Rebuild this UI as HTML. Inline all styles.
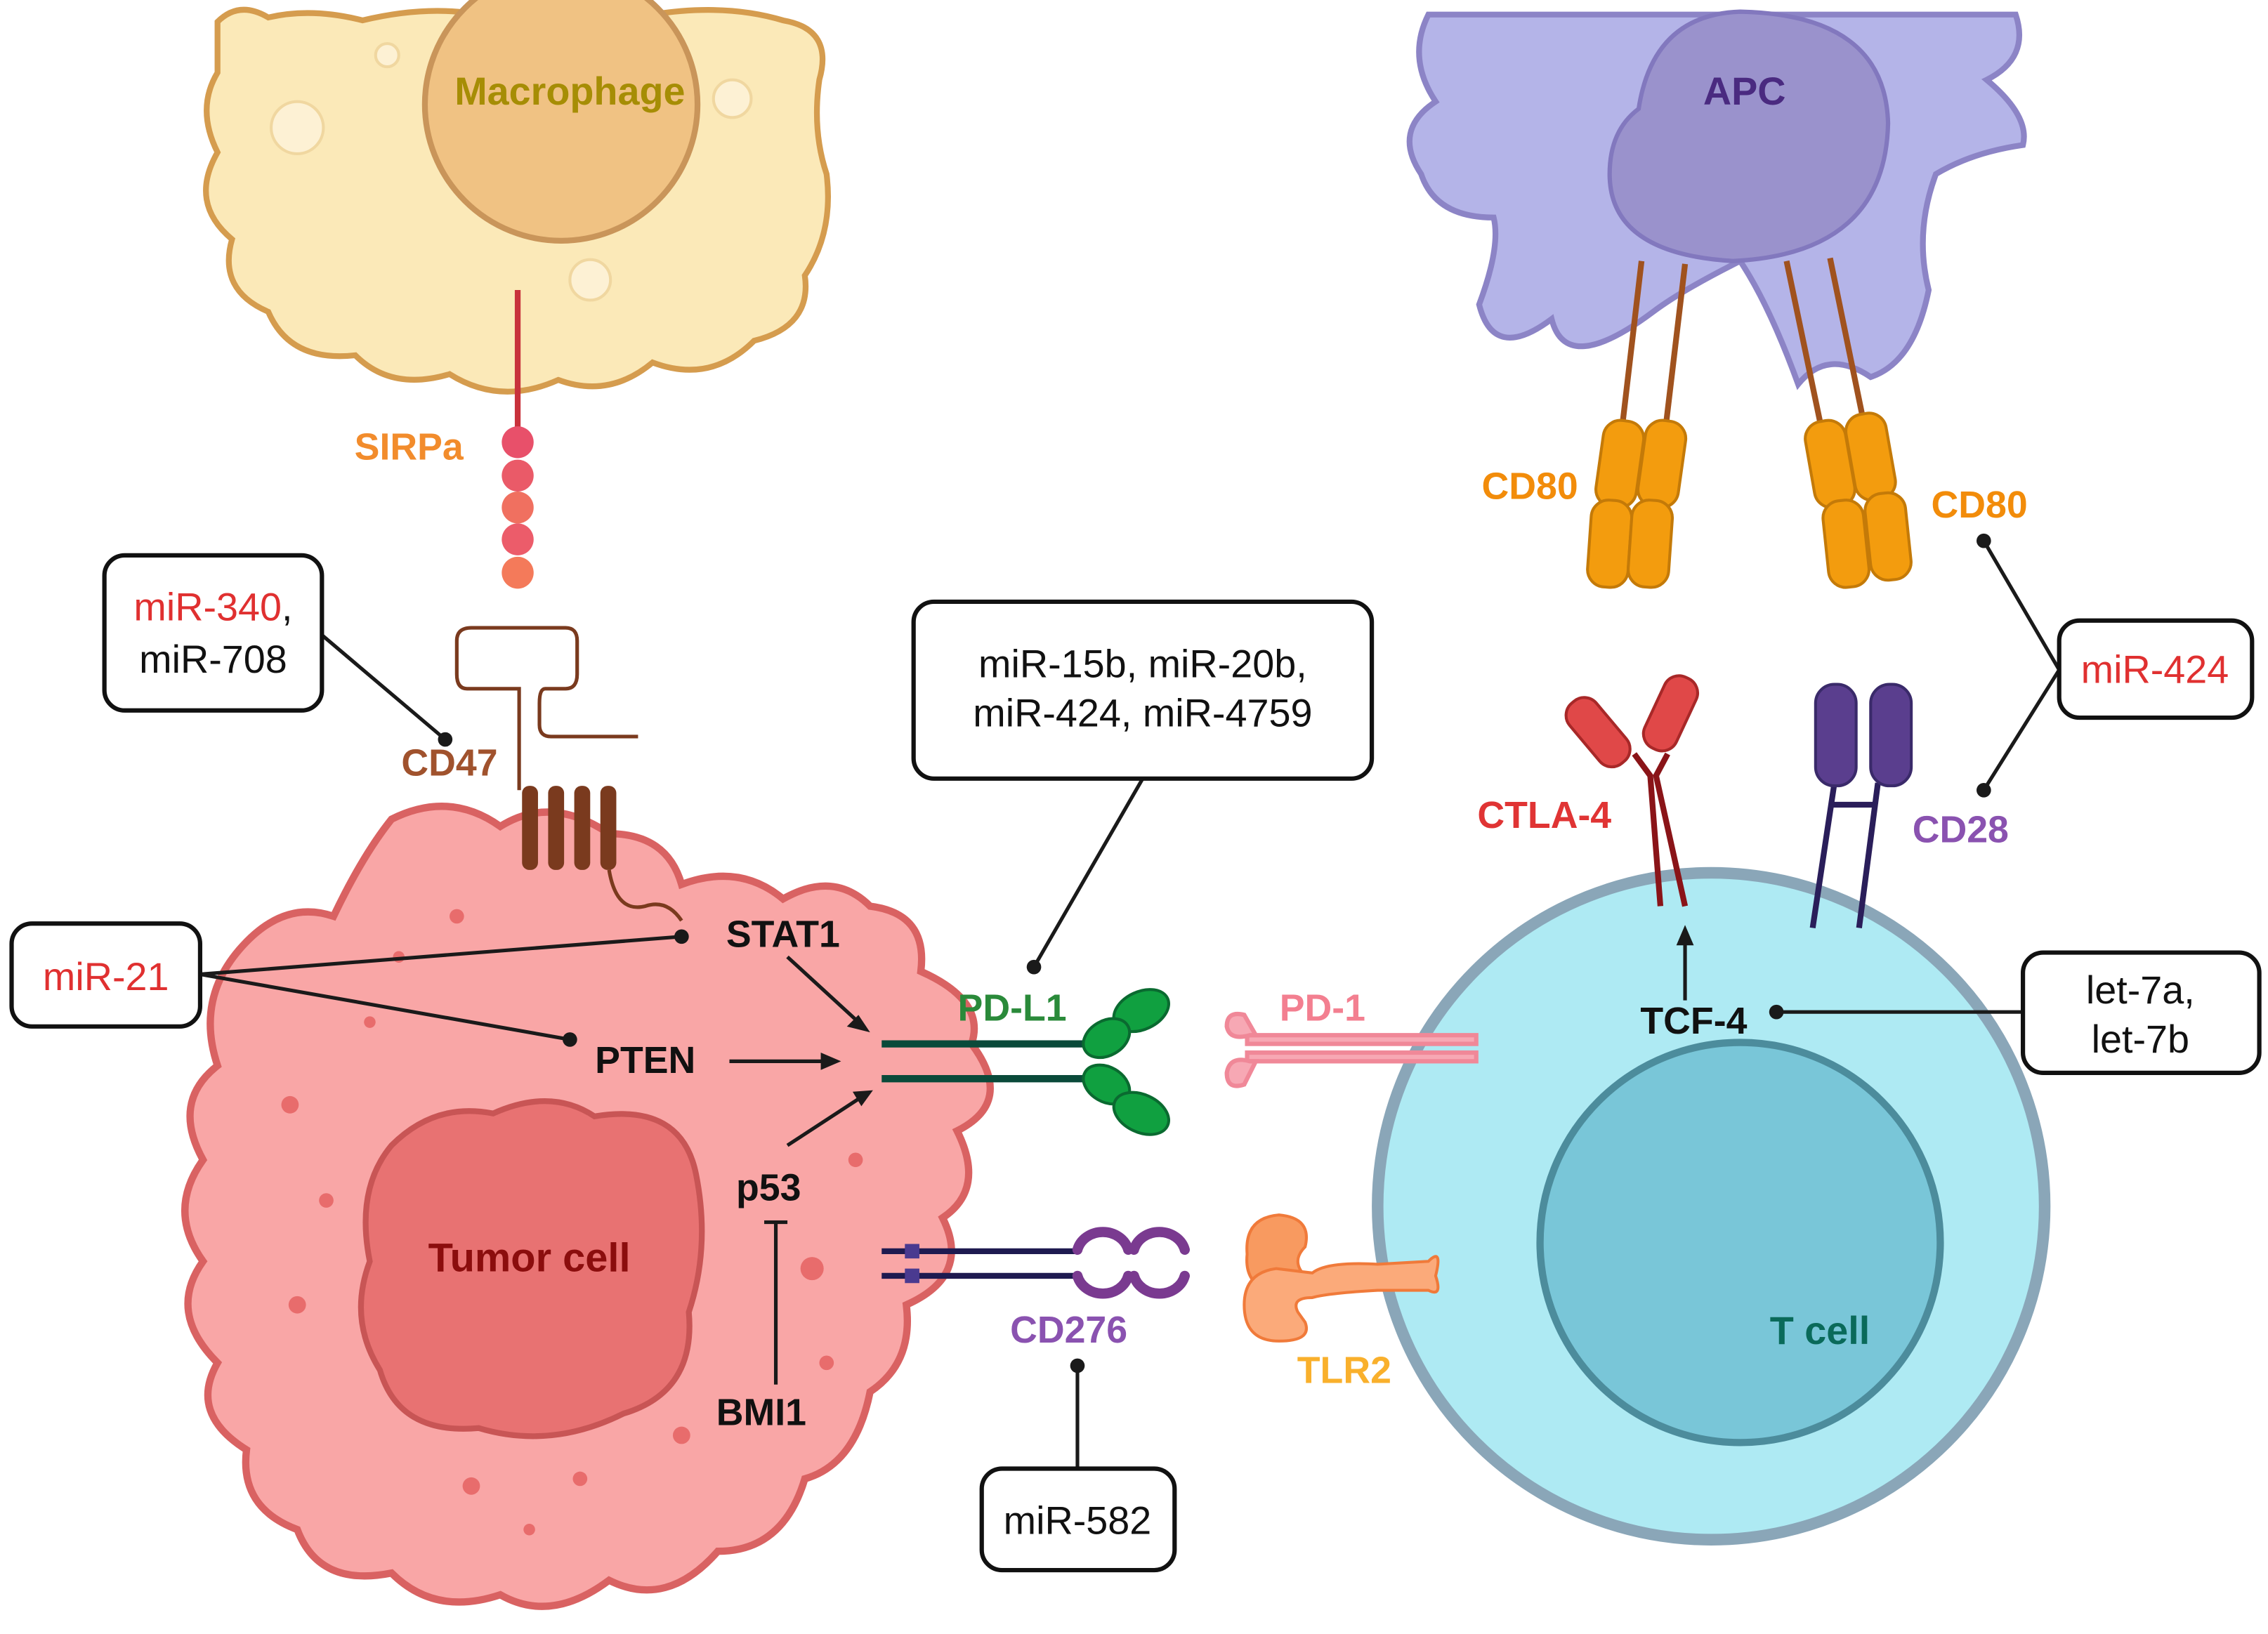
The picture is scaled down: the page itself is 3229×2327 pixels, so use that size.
<!DOCTYPE html>
<html><head><meta charset="utf-8"><style>html,body{margin:0;padding:0;background:#fff}svg{display:block}</style></head>
<body>
<svg width="3229" height="2327" viewBox="0 0 1564 1127" xmlns="http://www.w3.org/2000/svg" font-family="Liberation Sans, sans-serif">
<!-- Macrophage -->
<path d="M150,15 Q165,0 185,12 Q215,5 250,14 Q300,2 340,12 Q400,0 450,10 Q500,2 540,14 Q575,20 565,55 Q560,90 570,120 Q575,160 555,190 Q560,225 520,235 Q490,265 450,250 Q420,275 385,262 Q345,280 310,258 Q270,270 245,245 Q200,250 185,215 Q150,200 160,165 Q130,140 150,105 Q135,75 150,50 Z" fill="#fbe9b8" stroke="#d59c4e" stroke-width="4"/>
<circle cx="387" cy="72" r="94" fill="#f0c283" stroke="#c9955a" stroke-width="4"/>
<circle cx="205" cy="88" r="18" fill="#fdf1d4" stroke="#f0d7a0" stroke-width="2"/>
<circle cx="407" cy="193" r="14" fill="#fdf1d4" stroke="#f0d7a0" stroke-width="2"/>
<circle cx="505" cy="68" r="13" fill="#fdf1d4" stroke="#f0d7a0" stroke-width="2"/>
<circle cx="267" cy="38" r="8" fill="#fdf1d4" stroke="#f0d7a0" stroke-width="2"/>
<text x="393" y="72" font-size="27" font-weight="bold" fill="#a68d05" text-anchor="middle">Macrophage</text>
<!-- APC -->
<path d="M985,10 L1390,10 Q1400,40 1370,55 Q1400,80 1395,100 Q1360,105 1335,120 Q1320,160 1330,200 Q1320,250 1290,260 Q1260,240 1240,265 Q1220,210 1200,180 Q1160,200 1140,215 Q1080,260 1070,220 Q1030,250 1020,210 Q1035,170 1030,150 Q990,150 980,120 Q960,90 990,70 Q970,40 985,10 Z" fill="#b4b4e8" stroke="#8c84c6" stroke-width="4"/>
<path d="M1130,75 Q1140,10 1200,8 Q1300,10 1302,85 Q1300,175 1195,180 Q1110,175 1110,120 Q1110,90 1130,75 Z" fill="#9a92cc" stroke="#8278be" stroke-width="3"/>
<text x="1203" y="72" font-size="27" font-weight="bold" fill="#4a2a80" text-anchor="middle">APC</text>
<!-- CD80 -->
<g stroke="#a0521e" stroke-width="4"><line x1="1132" y1="180" x2="1118" y2="300"/><line x1="1162" y1="182" x2="1148" y2="300"/><line x1="1232" y1="180" x2="1257" y2="300"/><line x1="1262" y1="178" x2="1287" y2="300"/></g>
<g fill="#f39c0e" stroke="#c47a08" stroke-width="2">
<rect x="1103" y="290" width="28" height="60" rx="12" transform="rotate(8 1117 320)"/>
<rect x="1132" y="290" width="28" height="60" rx="12" transform="rotate(8 1146 320)"/>
<rect x="1096" y="345" width="28" height="60" rx="12" transform="rotate(4 1110 375)"/>
<rect x="1124" y="345" width="28" height="60" rx="12" transform="rotate(4 1138 375)"/>
<rect x="1248" y="290" width="28" height="60" rx="12" transform="rotate(-10 1262 320)"/>
<rect x="1276" y="285" width="28" height="60" rx="12" transform="rotate(-10 1290 315)"/>
<rect x="1259" y="345" width="28" height="60" rx="12" transform="rotate(-6 1273 375)"/>
<rect x="1288" y="340" width="28" height="60" rx="12" transform="rotate(-6 1302 370)"/>
</g>
<g font-size="26" font-weight="bold" fill="#f28c0a"><text x="1055" y="344" text-anchor="middle">CD80</text><text x="1365" y="357" text-anchor="middle">CD80</text></g>
<!-- SIRPa -->
<line x1="357" y1="200" x2="357" y2="300" stroke="#c8323c" stroke-width="4"/>
<circle cx="357" cy="305" r="11" fill="#e8506a"/><circle cx="357" cy="328" r="11" fill="#ea5a68"/><circle cx="357" cy="350" r="11" fill="#f07060"/><circle cx="357" cy="372" r="11" fill="#ec5c6a"/><circle cx="357" cy="395" r="11" fill="#f47a5a"/>
<text x="282" y="317" font-size="26" font-weight="bold" fill="#f28c2c" text-anchor="middle">SIRPa</text>
<!-- T cell -->
<circle cx="1180" cy="832" r="230" fill="#aeeaf3" stroke="#8aa6b8" stroke-width="8"/>
<circle cx="1200" cy="857" r="138" fill="#79c6d8" stroke="#4c8c9c" stroke-width="5"/>
<text x="1255" y="927" font-size="27" font-weight="bold" fill="#0a6a5a" text-anchor="middle">T cell</text>
<!-- Tumor cell -->
<path d="M165,655 Q195,620 230,632 Q250,590 270,565 Q310,545 345,570 Q380,548 420,575 Q460,575 470,610 Q510,595 540,620 Q575,600 600,625 Q640,630 635,670 Q680,690 670,720 Q700,760 660,780 Q680,820 650,840 Q670,880 625,900 Q630,940 600,960 Q590,1010 555,1020 Q540,1070 495,1070 Q460,1110 420,1090 Q380,1120 345,1100 Q300,1115 270,1085 Q220,1095 205,1055 Q165,1040 170,1000 Q130,975 150,940 Q115,905 140,870 Q115,835 140,800 Q118,760 150,735 Q135,690 165,655 Z" fill="#f9a6a6" stroke="#d96262" stroke-width="5"/>
<path d="M270,790 Q300,760 340,768 Q380,750 410,770 Q470,760 480,810 Q490,860 475,905 Q480,960 430,975 Q380,1000 330,985 Q275,990 262,945 Q240,910 255,870 Q245,820 270,790 Z" fill="#e87272" stroke="#c85555" stroke-width="4"/>
<g fill="#e86c6c"><circle cx="200" cy="762" r="6"/><circle cx="225" cy="828" r="5"/><circle cx="205" cy="900" r="6"/><circle cx="325" cy="1025" r="6"/><circle cx="400" cy="1020" r="5"/><circle cx="470" cy="990" r="6"/><circle cx="560" cy="875" r="8"/><circle cx="570" cy="940" r="5"/><circle cx="315" cy="632" r="5"/><circle cx="275" cy="660" r="4"/><circle cx="590" cy="800" r="5"/><circle cx="255" cy="705" r="4"/><circle cx="365" cy="1055" r="4"/></g>
<text x="365" y="877" font-size="28" font-weight="bold" fill="#8b0d0d" text-anchor="middle">Tumor cell</text>
<!-- CD47 -->
<path d="M358,545 L358,475 L322,475 Q315,475 315,465 L315,442 Q315,433 325,433 L390,433 Q398,433 398,442 L398,465 Q398,475 390,475 L376,475 Q372,475 372,485 L372,500 Q372,508 380,508 L440,508" fill="none" stroke="#7a3a1e" stroke-width="2.5"/>
<g fill="#7a3a1e"><rect x="360" y="542" width="11" height="58" rx="5"/><rect x="378" y="542" width="11" height="58" rx="5"/><rect x="396" y="542" width="11" height="58" rx="5"/><rect x="414" y="542" width="11" height="58" rx="5"/></g>
<path d="M420,600 Q425,630 445,625 Q460,620 470,635" fill="none" stroke="#7a3a1e" stroke-width="2.5"/>
<text x="310" y="535" font-size="26" font-weight="bold" fill="#a0522d" text-anchor="middle">CD47</text>
<!-- connectors -->
<g stroke="#1a1a1a" stroke-width="2.5" fill="none">
<line x1="222" y1="438" x2="307" y2="510"/>
<line x1="138" y1="672" x2="470" y2="646"/>
<line x1="138" y1="672" x2="393" y2="717"/>
<line x1="788" y1="537" x2="713" y2="667"/>
<line x1="743" y1="1013" x2="743" y2="942"/>
<line x1="1420" y1="462" x2="1368" y2="373"/>
<line x1="1420" y1="462" x2="1368" y2="545"/>
<line x1="1225" y1="698" x2="1395" y2="698"/>
<line x1="535" y1="955" x2="535" y2="843"/><line x1="527" y1="843" x2="543" y2="843"/>
<line x1="543" y1="660" x2="592" y2="705"/>
<line x1="503" y1="732" x2="570" y2="732"/>
<line x1="543" y1="790" x2="592" y2="758"/>
<line x1="1162" y1="690" x2="1162" y2="648"/>
</g>
<g fill="#1a1a1a">
<circle cx="307" cy="510" r="5"/><circle cx="470" cy="646" r="5"/><circle cx="393" cy="717" r="5"/><circle cx="713" cy="667" r="5"/><circle cx="743" cy="942" r="5"/><circle cx="1368" cy="373" r="5"/><circle cx="1368" cy="545" r="5"/><circle cx="1225" cy="698" r="5"/>
<polygon points="600,712 584,708 592,700"/>
<polygon points="580,732 566,726 566,738"/>
<polygon points="602,752 588,753 594,763"/>
<polygon points="1162,638 1156,652 1168,652"/>
</g>
<g font-size="26" font-weight="bold" fill="#111" text-anchor="middle">
<text x="540" y="653">STAT1</text><text x="445" y="740">PTEN</text><text x="530" y="828">p53</text><text x="525" y="983">BMI1</text><text x="1168" y="713">TCF-4</text></g>
<!-- PD-L1 -->
<g stroke="#0a4a3a" stroke-width="5"><line x1="608" y1="720" x2="760" y2="720"/><line x1="608" y1="744" x2="760" y2="744"/></g>
<g fill="#10a040" stroke="#0a6a30" stroke-width="2">
<ellipse cx="787" cy="697" rx="20" ry="13" transform="rotate(-25 787 697)"/><ellipse cx="763" cy="716" rx="17" ry="12" transform="rotate(-30 763 716)"/>
<ellipse cx="763" cy="748" rx="17" ry="12" transform="rotate(30 763 748)"/><ellipse cx="787" cy="768" rx="20" ry="13" transform="rotate(25 787 768)"/></g>
<text x="698" y="704" font-size="26" font-weight="bold" fill="#2a8a3a" text-anchor="middle">PD-L1</text>
<!-- PD-1 -->
<g stroke="#f08898" stroke-width="3" fill="#f7a8b4"><rect x="860" y="714" width="158" height="6"/><rect x="860" y="726" width="158" height="6"/>
<path d="M862,714 Q848,718 846,708 Q846,697 858,700 L866,714 Z"/><path d="M862,732 Q848,728 846,740 Q846,752 858,748 L866,732 Z"/></g>
<text x="912" y="704" font-size="26" font-weight="bold" fill="#f37f90" text-anchor="middle">PD-1</text>
<!-- CD276 -->
<g stroke="#1e1a50" stroke-width="4"><line x1="608" y1="863" x2="745" y2="863"/><line x1="608" y1="880" x2="745" y2="880"/></g>
<rect x="624" y="858" width="10" height="10" fill="#4a3a90"/><rect x="624" y="875" width="10" height="10" fill="#4a3a90"/>
<g fill="none" stroke="#7a3a90" stroke-width="7" stroke-linecap="round">
<path d="M743,862 A18,16 0 0 1 778,862"/><path d="M782,862 A18,16 0 0 1 817,862"/>
<path d="M743,880 A18,16 0 0 0 778,880"/><path d="M782,880 A18,16 0 0 0 817,880"/></g>
<text x="737" y="926" font-size="26" font-weight="bold" fill="#8a52b0" text-anchor="middle">CD276</text>
<!-- TLR2 -->
<g fill="#f89a60" stroke="#f07a3a" stroke-width="2">
<path d="M900,860 Q905,840 882,838 Q858,840 860,865 Q858,885 875,890 L900,880 Q890,870 900,860 Z"/>
<path d="M900,912 Q905,925 882,925 Q858,925 858,900 Q858,878 880,875 L905,878 Q915,870 950,872 L985,870 Q995,860 990,880 Q995,895 985,890 L950,890 Q915,892 905,895 Q890,895 895,905 Z" fill="#fbaa7a"/>
</g>
<text x="927" y="954" font-size="26" font-weight="bold" fill="#f9b02c" text-anchor="middle">TLR2</text>
<!-- CTLA-4 -->
<g stroke="#8a1418" stroke-width="4" fill="none"><path d="M1127,520 L1138,535 L1145,625"/><path d="M1150,520 L1142,535 L1162,625"/></g>
<g fill="#e04848" stroke="#a82828" stroke-width="2">
<rect x="1090" y="478" width="24" height="54" rx="11" transform="rotate(-40 1102 505)"/>
<rect x="1140" y="465" width="24" height="54" rx="11" transform="rotate(25 1152 492)"/></g>
<text x="1065" y="571" font-size="26" font-weight="bold" fill="#e03434" text-anchor="middle">CTLA-4</text>
<!-- CD28 -->
<g stroke="#2a1e5a" stroke-width="4"><line x1="1265" y1="540" x2="1250" y2="640"/><line x1="1295" y1="540" x2="1282" y2="640"/><line x1="1263" y1="555" x2="1293" y2="555"/></g>
<g fill="#5a3e8e" stroke="#3a2a6a" stroke-width="2"><rect x="1252" y="472" width="28" height="70" rx="13"/><rect x="1290" y="472" width="28" height="70" rx="13"/></g>
<text x="1352" y="581" font-size="26" font-weight="bold" fill="#8a52b0" text-anchor="middle">CD28</text>
<!-- boxes -->
<g fill="#fff" stroke="#111" stroke-width="3">
<rect x="72" y="383" width="150" height="107" rx="14"/>
<rect x="8" y="637" width="130" height="71" rx="14"/>
<rect x="630" y="415" width="316" height="122" rx="14"/>
<rect x="677" y="1013" width="133" height="70" rx="14"/>
<rect x="1420" y="428" width="133" height="67" rx="14"/>
<rect x="1395" y="657" width="163" height="83" rx="14"/>
</g>
<g font-size="27" text-anchor="middle" fill="#111">
<text x="147" y="428"><tspan fill="#e03030">miR-340</tspan>,</text><text x="147" y="464">miR-708</text>
<text x="73" y="683" fill="#e03030">miR-21</text>
<text x="788" y="467">miR-15b, miR-20b,</text><text x="788" y="501">miR-424, miR-4759</text>
<text x="743" y="1058">miR-582</text>
<text x="1486" y="471" fill="#e03030">miR-424</text>
<text x="1476" y="692">let-7a,</text><text x="1476" y="726">let-7b</text>
</g>
</svg>
</body></html>
